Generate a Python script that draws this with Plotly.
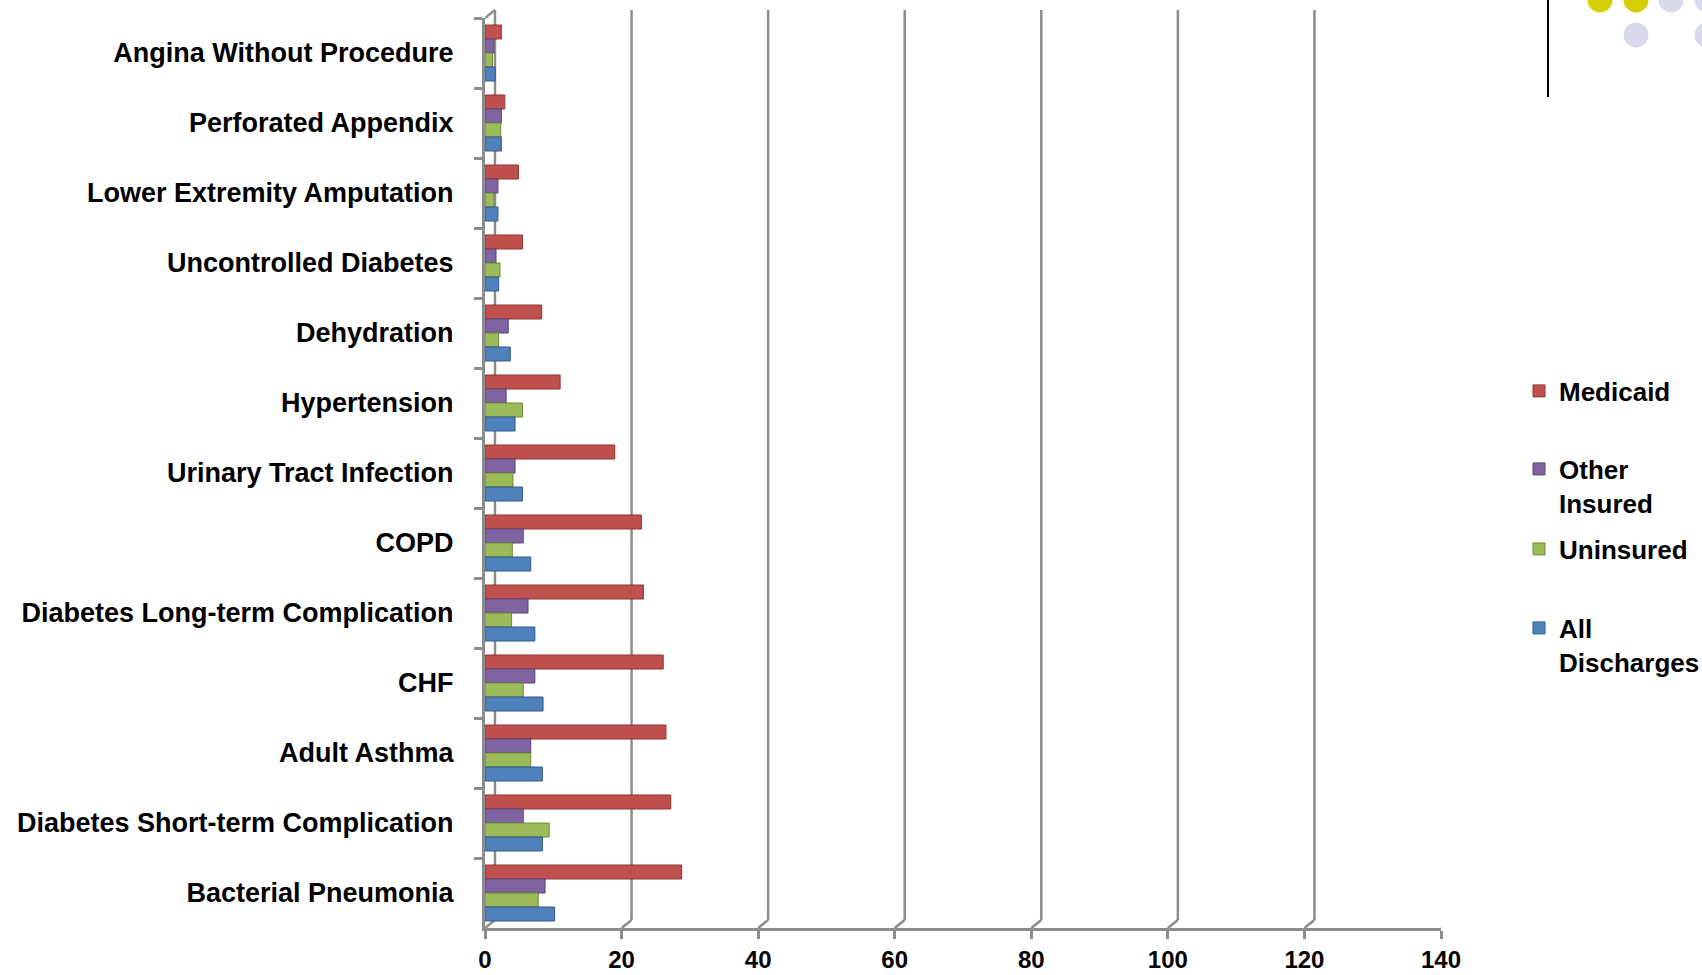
import plotly.graph_objects as go

# Conditions, listed top to bottom
categories = [
    "Angina Without Procedure",
    "Perforated Appendix",
    "Lower Extremity Amputation",
    "Uncontrolled Diabetes",
    "Dehydration",
    "Hypertension",
    "Urinary Tract Infection",
    "COPD",
    "Diabetes Long-term Complication",
    "CHF",
    "Adult Asthma",
    "Diabetes Short-term Complication",
    "Bacterial Pneumonia",
]

medicaid = [2.4, 2.9, 4.9, 5.5, 8.3, 11.0, 19.0, 22.9, 23.2, 26.1, 26.5, 27.2, 28.8]
other_insured = [1.3, 2.4, 1.9, 1.6, 3.4, 3.1, 4.4, 5.6, 6.3, 7.3, 6.7, 5.6, 8.8]
uninsured = [1.1, 2.3, 1.3, 2.2, 2.0, 5.5, 4.1, 4.0, 3.9, 5.6, 6.7, 9.4, 7.8]
all_discharges = [1.5, 2.4, 1.9, 2.0, 3.7, 4.4, 5.5, 6.7, 7.3, 8.5, 8.4, 8.4, 10.2]

series_names = ["Medicaid", "Other<br>Insured", "Uninsured", "All<br>Discharges"]
x_ticks = [0, 20, 40, 60, 80, 100, 120, 140]

# Page geometry (pixels)
W, H = 1702, 975
ML, MR, MT, MB = 485, 261, 18, 47
PW, PH = W - ML - MR, H - MT - MB
DX, DY = 10, 8  # depth offset of the back wall

FONT = "Liberation Sans"
GRID = "#8c8c8c"


def px_x(px):
    return (px - ML) / PW


def px_y(py):
    return 1 - (py - MT) / PH


series = [
    (series_names[0], medicaid, "#C0504D", "#8E3532", "legend", 391),
    (series_names[1], other_insured, "#8064A2", "#5B4677", "legend2", 486),
    (series_names[2], uninsured, "#9BBB59", "#6F8A3A", "legend3", 549),
    (series_names[3], all_discharges, "#4F81BD", "#33598A", "legend4", 645),
]

fig = go.Figure()
for name, vals, col, edge, lg, _ in series:
    fig.add_trace(go.Bar(
        y=categories, x=vals, name=name, orientation="h",
        marker=dict(color=col, line=dict(color=edge, width=1)),
        legend=lg,
    ))

shapes = []
# back wall gridlines and floor connectors
for v in x_ticks:
    shapes.append(dict(type="line", layer="below", xref="x", xsizemode="pixel",
                       xanchor=v, x0=DX, x1=DX, yref="paper",
                       y0=DY / PH, y1=1 + DY / PH,
                       line=dict(color=GRID, width=2.5)))
    shapes.append(dict(type="line", layer="below", xref="x", xsizemode="pixel",
                       xanchor=v, x0=0, x1=DX, yref="paper",
                       y0=0, y1=DY / PH,
                       line=dict(color=GRID, width=2.5)))
# top edge of the left wall
shapes.append(dict(type="line", layer="below", xref="x", xsizemode="pixel",
                   xanchor=0, x0=0, x1=DX, yref="paper",
                   y0=1, y1=1 + DY / PH, line=dict(color=GRID, width=2.5)))

# slide ornament: divider and dots
shapes.append(dict(type="line", xref="paper", yref="paper",
                   x0=px_x(1548), x1=px_x(1548), y0=px_y(0), y1=px_y(97),
                   line=dict(color="black", width=2)))
dots = [(1600, 0, "#D4CF00"), (1636, 0, "#D4CF00"), (1671, 0, "#D9D9EC"),
        (1707, 0, "#D9D9EC"), (1636, 35, "#D9D9EC"), (1707, 35, "#D9D9EC")]
R = 12.5
for cx, cy, c in dots:
    shapes.append(dict(type="circle", xref="paper", yref="paper",
                       x0=px_x(cx - R), x1=px_x(cx + R),
                       y0=px_y(cy + R), y1=px_y(cy - R),
                       fillcolor=c, line=dict(width=0)))

legend_base = dict(font=dict(family=FONT, size=26, color="black", weight="bold"),
                   bgcolor="rgba(0,0,0,0)", borderwidth=0,
                   xanchor="left", yanchor="middle", valign="top",
                   x=px_x(1519))
legends = {}
for i, s in enumerate(series):
    key = "legend" if i == 0 else f"legend{i + 1}"
    legends[key] = dict(legend_base, y=px_y(s[5]))

fig.update_layout(
    width=W, height=H,
    margin=dict(l=ML, r=MR, t=MT, b=MB, autoexpand=False),
    paper_bgcolor="white", plot_bgcolor="rgba(0,0,0,0)",
    barmode="group", bargap=0.2, bargroupgap=0,
    showlegend=True,
    shapes=shapes,
    xaxis=dict(range=[0, 140], tickvals=x_ticks, showgrid=False, zeroline=False,
               showline=True, linecolor=GRID, linewidth=3,
               ticks="outside", ticklen=8, tickwidth=3, tickcolor=GRID,
               tickfont=dict(family=FONT, size=24, color="black", weight="bold"),
               ticklabelstandoff=0, automargin=False),
    yaxis=dict(type="category", categoryorder="array", categoryarray=categories,
               autorange="reversed", showgrid=False, zeroline=False,
               showline=True, linecolor=GRID, linewidth=3,
               ticks="outside", tickson="boundaries", ticklen=8, tickwidth=3,
               tickcolor=GRID,
               tickfont=dict(family=FONT, size=27, color="black", weight="bold"),
               ticklabelstandoff=23, automargin=False),
    **legends,
)

fig.write_html("out.html")
